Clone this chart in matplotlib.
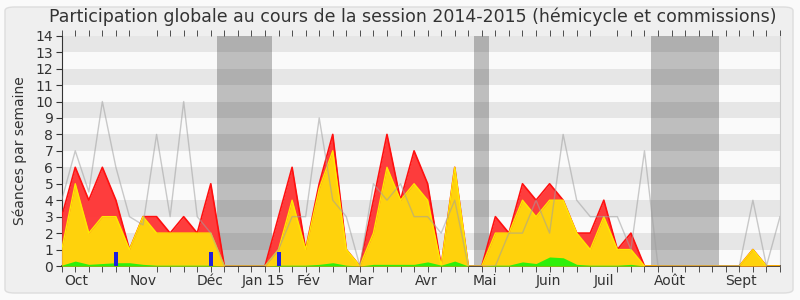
import matplotlib
matplotlib.use("Agg")
import matplotlib.pyplot as plt
from matplotlib.patches import FancyBboxPatch
import numpy as np

plt.rcParams['font.family'] = ['DejaVu Sans']

weeks = list(range(54))
total = [3, 6, 4, 6, 4, 1, 3, 3, 2, 3, 2, 5, 0, 0, 0, 0, 3, 6, 1, 5, 8, 1, 0, 4, 8, 4, 7, 5, 0, 6,
         0, 0, 3, 2, 5, 4, 5, 4, 2, 2, 4, 1, 2, 0, 0, 0, 0, 0, 0, 0, 0, 1, 0, 0]
hemicycle = [1, 5, 2, 3, 3, 1, 3, 2, 2, 2, 2, 2, 0, 0, 0, 0, 1, 4, 1, 4.7, 7, 1, 0, 2, 6, 4, 5, 4, 0, 6,
             0, 0, 2, 2, 4, 3, 4, 4, 2, 1, 3, 1, 1, 0, 0, 0, 0, 0, 0, 0, 0, 1, 0, 0]
interventions = [0.05, 0.3, 0.1, 0.15, 0.2, 0.2, 0.1, 0.05, 0.05, 0.05, 0.05, 0.05, 0, 0, 0, 0,
                 0.05, 0.05, 0.05, 0.1, 0.2, 0.05, 0, 0.1, 0.1, 0.1, 0.1, 0.25, 0.05, 0.3,
                 0, 0, 0.05, 0.05, 0.25, 0.15, 0.55, 0.5, 0.1, 0.05, 0.05, 0.05, 0.1, 0,
                 0, 0, 0, 0, 0, 0, 0, 0, 0, 0]
median = [4, 7, 4.5, 10, 6, 3, 2.5, 8, 3, 10, 3, 2, 0, 0, 0, 0, 1, 3, 3, 9, 4, 3, 0, 5, 4, 5, 3, 3, 2, 4,
          0, 0, 0, 2, 2, 4, 2, 8, 4, 3, 3, 3, 1, 7, 0, 0, 0, 0, 0, 0, 0, 4, 0, 3]
question_weeks = [4, 11, 16]
question_values = [0.87, 0.87, 0.87]
vacations = [(11.46, 15.5), (30.43, 31.54), (43.5, 48.5)]
month_pos = [1.1, 6.0, 10.95, 14.9, 18.2, 22.1, 26.9, 31.2, 35.9, 40.0, 44.9, 50.1]
month_labels = ["Oct", "Nov", "Déc", "Jan 15", "Fév", "Mar", "Avr", "Mai", "Juin", "Juil", "Août", "Sept"]
title = "Participation globale au cours de la session 2014-2015 (hémicycle et commissions)"
ylabel = "Séances par semaine"

fig = plt.figure(figsize=(8, 3), dpi=100)
fig.patch.set_facecolor('#fafafa')
fig.patches.append(FancyBboxPatch((5/800, 7/300), 788/800, 286/300,
                                  boxstyle="round,pad=0,rounding_size=0.012",
                                  transform=fig.transFigure, facecolor='#efefef',
                                  edgecolor='#dddddd', linewidth=1, zorder=-10))

ax = fig.add_axes([61.7/800, 1-266/300, (780-61.7)/800, (266-35.7)/300])
ax.set_facecolor('#fafafa')
ax.set_xlim(0, 53)
ax.set_ylim(0, 14)

for a, b in vacations:
    ax.axvspan(a, b, color='#bebebe', zorder=1, lw=0)
for v in range(1, 14, 2):
    ax.axhspan(v, v + 1, color='black', alpha=0.08, zorder=2, lw=0)

ax.fill_between(weeks, 0, total, color='#ff3333', alpha=0.95, zorder=3, lw=0)
ax.plot(weeks, total, color='#ff1010', lw=1.2, zorder=3.5)
ax.fill_between(weeks, 0, hemicycle, color='#ffd20c', zorder=4, lw=0)
ax.plot(weeks, hemicycle, color='#ffe800', lw=1, zorder=4.5)
ax.fill_between(weeks, 0, interventions, color='#2ef00a', zorder=5, lw=0)
ax.bar(question_weeks, question_values, width=0.3, color='#1f1fdd', zorder=6)
ax.plot(weeks, median, color='#a0a0a0', lw=1, alpha=0.55, zorder=7)

ax.set_yticks(range(0, 15))
ax.tick_params(axis='y', direction='out', length=4, labelsize=10, colors='#333333', pad=2)
ax.set_xticks(month_pos)
ax.set_xticklabels(month_labels)
ax.tick_params(axis='x', which='major', length=0, labelsize=10, colors='#333333', pad=6)
ax.set_xticks(range(0, 54), minor=True)
ax.tick_params(axis='x', which='minor', direction='out', length=4, color='#333333',
               top=True, bottom=True)
ax.set_ylabel(ylabel, fontsize=10, color='#333333', labelpad=6)

ax.spines['top'].set_visible(False)
ax.spines['right'].set_color('#cccccc')
ax.spines['left'].set_color('#333333')
ax.spines['bottom'].set_color('#3a2a1a')
ax.spines['bottom'].set_linewidth(1.2)

fig.text(413/800, 1-17/300, title, ha='center', va='center', fontsize=12.5, color='#333333')

fig.savefig('out.png', dpi=100, facecolor=fig.get_facecolor())
